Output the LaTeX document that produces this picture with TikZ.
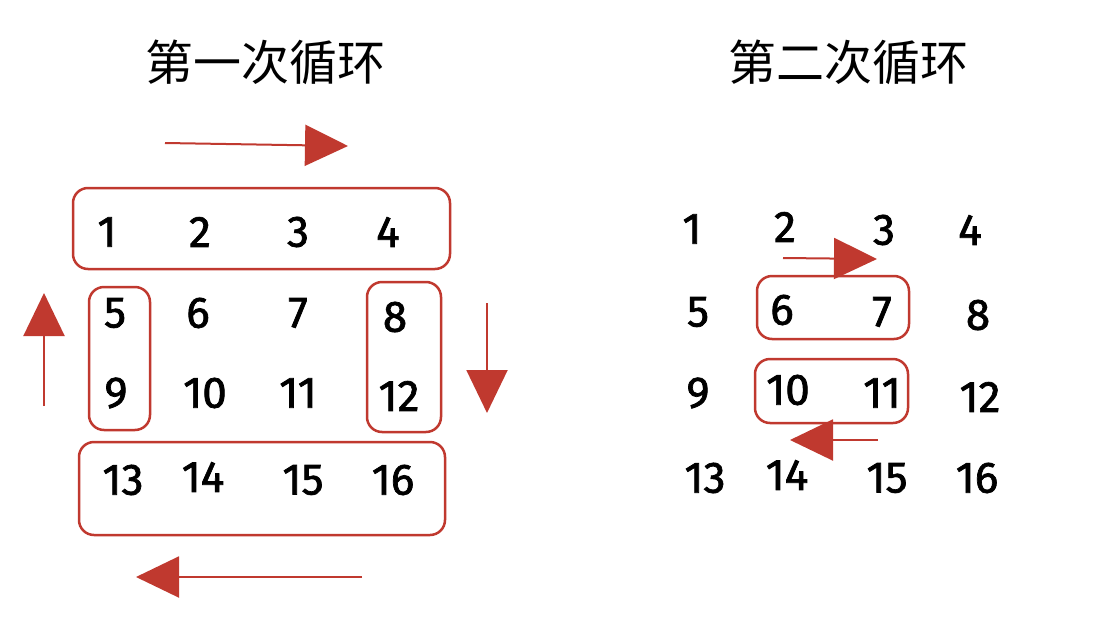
\documentclass[tikz,border=0pt]{standalone}
\usepackage{fontspec}
\setmainfont{Fira Sans}
\newfontfamily\digitfont{Fira Sans}[FakeBold=1.6]
\newfontfamily\cjk{Noto Sans CJK SC}
\usetikzlibrary{arrows.meta}
\definecolor{loop-red}{HTML}{C0392F}

\begin{document}
\begin{tikzpicture}[x=1pt, y=-1pt,
          num/.style={font=\digitfont\fontsize{44}{44}\selectfont, inner sep=0pt},
          title/.style={font=\cjk\fontsize{48}{48}\selectfont, inner sep=0pt},
          loopbox/.style={draw=loop-red, line width=2.5pt, rounded corners=15pt,
                          inner sep=0pt},
          flow/.style={draw=loop-red, line width=2pt,
                       -{Triangle[length=43pt, width=41pt]}}]
        % Diagram: 4x4 grid walked in spiral order, shown twice.
        % Coordinates: pixel units, y grows downwards, page 1112 x 627.
        \useasboundingbox (0,0) rectangle (1112,627);
        \node[title] (t1) at (265,62) {第一次循环};
        \node[title] (t2) at (848,62) {第二次循环};
        % left grid (first loop)
        \foreach \n/\x/\y in {1/107/232, 2/200/232, 3/298/232, 4/388/232,
            5/115/313, 6/198/313, 7/298/313, 8/395/317,
            9/116/393, 10/205/393, 11/298/393, 12/399/396,
            13/123/480, 14/203/477, 15/303/480, 16/393/480} {
          \node[num] (a\n) at (\x,\y) {\n};
        }
        % right grid (second loop)
        \foreach \n/\x/\y in {1/692/229, 2/785/227, 3/884/230, 4/970/230,
            5/698/312, 6/782/310, 7/882/312, 8/978/315,
            9/698/393, 10/788/390, 11/882/393, 12/980/397,
            13/705/478, 14/787/475, 15/887/478, 16/977/478} {
          \node[num] (b\n) at (\x,\y) {\n};
        }
        % rings of the first loop
        \node[loopbox, minimum width=377pt, minimum height=81pt] (top) at (261.5,228.5) {};
        \node[loopbox, minimum width=61pt, minimum height=143pt] (left) at (119.5,358.5) {};
        \node[loopbox, minimum width=74pt, minimum height=150pt] (right) at (404,357) {};
        \node[loopbox, minimum width=366pt, minimum height=93pt] (bottom) at (262,488.5) {};
        % rings of the second loop
        \node[loopbox, minimum width=152pt, minimum height=63pt] (inup) at (833,307.5) {};
        \node[loopbox, minimum width=153pt, minimum height=64pt] (indown) at (831.5,391) {};
        % walking directions
        \coordinate (ts) at (165,143);  \coordinate (te) at (348,146);
        \coordinate (rs) at (487,303);  \coordinate (re) at (487,413);
        \coordinate (bs) at (362,577);  \coordinate (be) at (136,577);
        \coordinate (ls) at (44,406);   \coordinate (le) at (44,293);
        \coordinate (us) at (783,258);  \coordinate (ue) at (877,259);
        \coordinate (ds) at (878,440);  \coordinate (de) at (790,440);
        \draw[flow] (ts) -- (te);
        \draw[flow] (rs) -- (re);
        \draw[flow] (bs) -- (be);
        \draw[flow] (ls) -- (le);
        \draw[flow] (us) -- (ue);
        \draw[flow] (ds) -- (de);
      \end{tikzpicture}
\end{document}
